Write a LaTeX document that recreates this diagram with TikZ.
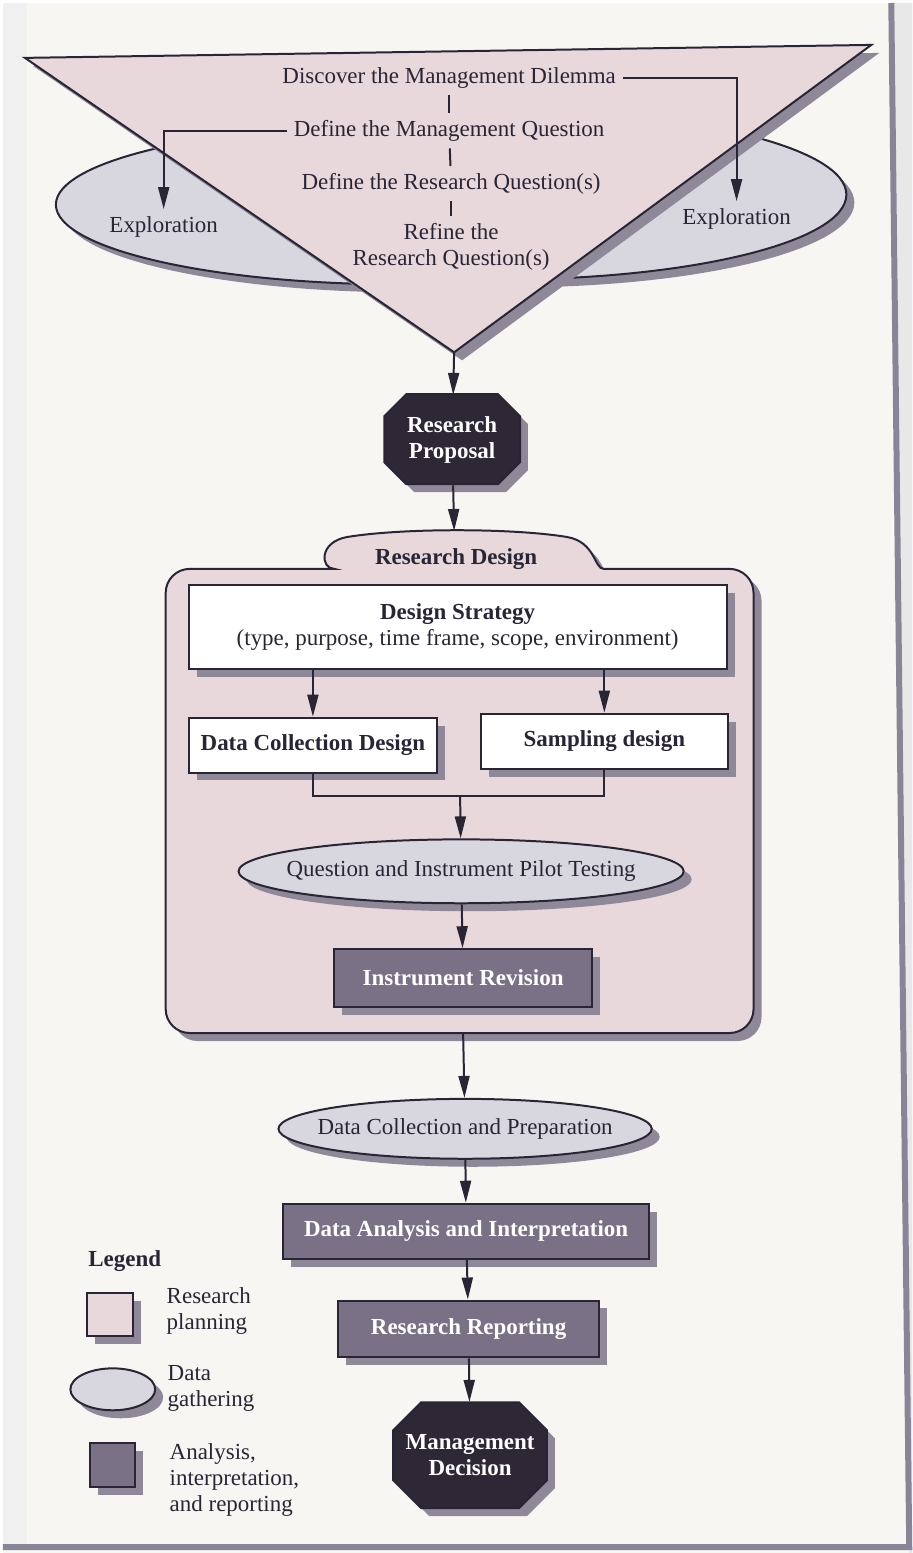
\documentclass[tikz,border=0pt]{standalone}
\usepackage{fontspec}
\setmainfont{Liberation Serif}
\usetikzlibrary{arrows.meta,shapes.geometric,shadows}

\definecolor{plancol}{HTML}{E8D8DC}
\definecolor{gathcol}{HTML}{D8D7E0}
\definecolor{anacol}{HTML}{7B7186}
\definecolor{deccol}{HTML}{2D2736}
\definecolor{shadcol}{HTML}{8E8898}
\definecolor{inkcol}{HTML}{2A2535}
\definecolor{papercol}{HTML}{F7F6F3}
\definecolor{edgecol}{HTML}{8A8596}

% octagon outline: centre x, centre y, half width, half height, chamfer
\newcommand{\octashape}[5]{%
  \path[outl,fill=deccol,shad] (#1-#3+#5,#2-#4) -- (#1+#3-#5,#2-#4) -- (#1+#3,#2-#4+#5)
    -- (#1+#3,#2+#4-#5) -- (#1+#3-#5,#2+#4) -- (#1-#3+#5,#2+#4) -- (#1-#3,#2+#4-#5)
    -- (#1-#3,#2-#4+#5) -- cycle;}

\tikzset{
  shad/.style={drop shadow={shadow xshift=4pt,shadow yshift=-4pt,fill=shadcol,opacity=1}},
  outl/.style={draw=inkcol,line width=1pt},
  whitebox/.style={rectangle,outl,fill=white,shad,inner sep=0pt,align=center,font=\fontsize{11.5}{13}\selectfont\bfseries},
  darkbox/.style={rectangle,outl,fill=anacol,shad,inner sep=0pt,text=white,font=\fontsize{11.5}{13}\selectfont\bfseries},
  gathoval/.style={ellipse,outl,fill=gathcol,shad,inner xsep=-12pt,inner ysep=0pt},
  octtext/.style={rectangle,inner sep=0pt,text=white,align=center,font=\fontsize{11.5}{13}\selectfont\bfseries},
  link/.style={inkcol,line width=1pt},
}

\begin{document}
\begin{tikzpicture}[x=0.5pt,y=-0.5pt,>={Triangle[length=11pt,width=5.5pt]},
  font=\fontsize{11.5}{13}\selectfont,text=inkcol]
% paper and page edge
\fill[papercol] (0,0) rectangle (911,1553);
\fill[gray!12] (0,0) rectangle (24,1547);
\fill[gray!18] (890,0) -- (911,0) -- (911,1553) -- (908,1553) -- cycle;
\draw[edgecol,line width=3pt] (890,0) -- (908,1547) -- (0,1547);

% exploration discs behind the funnel
\begin{scope}
  \clip (0,0) rectangle (452,400);
  \path[outl,fill=gathcol,shad] (400,202) ellipse [x radius=347,y radius=80];
\end{scope}
\begin{scope}
  \clip (452,0) rectangle (900,400);
  \path[outl,fill=gathcol,shad] (500,192) ellipse [x radius=345,y radius=85];
\end{scope}

% funnel
\path[outl,fill=plancol,shad] (22,55) -- (870,42) -- (452,350) -- cycle;
\coordinate (tip) at (452,350);

\node (dm)  at (447,75)  {Discover the Management Dilemma};
\node (mq)  at (447,128) {Define the Management Question};
\node (rq)  at (449,181) {Define the Research Question(s)};
\node[align=center] (rrq) at (449,244) {Refine the\\Research Question(s)};
\node (expL) at (161,224) {Exploration};
\node (expR) at (735,216) {Exploration};

\draw[link] (dm) -- (mq);
\draw[link] (mq) -- (rq);
\draw[link] (rq) -- (rrq);
\draw[link,->] (dm.east) -| (expR.north);
\draw[link,->] (mq.west) -| (expL.north);

% proposal
\octashape{450}{437}{68}{45}{22}
\node[octtext,minimum width=68pt,minimum height=45pt] (rp) at (450,438) {Research\\Proposal};
\draw[link,->] (tip) -- (rp);

% research design container
\path[outl,fill=plancol,shad] (163,800) [rounded corners=12pt] -- (163,567) -- (308,567) [sharp corners]
  .. controls (318,567) and (316,540) .. (345,535)
  .. controls (400,526) and (510,526) .. (565,535)
  .. controls (594,540) and (592,567) .. (602,567) [rounded corners=12pt]
  -- (752,567) -- (752,1032) -- (163,1032) -- cycle;
\coordinate (rdtop) at (452,529);
\coordinate (rdbot) at (461,1032);
\node[font=\fontsize{11.5}{13}\selectfont\bfseries] (rdl) at (454,557) {Research Design};
\draw[link,->] (rp) -- (rdtop);

\node[whitebox,minimum width=269.5pt,minimum height=42pt] (ds) at (455.5,625)
  {Design Strategy\\{\mdseries (type, purpose, time frame, scope, environment)}};
\node[whitebox,minimum width=124.5pt,minimum height=27.5pt] (dcd) at (310.5,743.5) {Data Collection Design};
\node[whitebox,minimum width=123.5pt,minimum height=27.5pt] (sd) at (602.5,739.5) {Sampling design};
\draw[link,->] (ds.south -| dcd) -- (dcd);
\draw[link,->] (ds.south -| sd) -- (sd);

\coordinate (merge) at (458,795);
\draw[link] (dcd.south) |- (merge) -| (sd.south);
\node[gathoval,minimum width=223pt,minimum height=32pt] (qipt) at (459,870) {Question and Instrument Pilot Testing};
\draw[link,->] (merge) -- (qipt);
\node[darkbox,minimum width=129pt,minimum height=29pt] (ir) at (461,977) {Instrument Revision};
\draw[link,->] (qipt) -- (ir);

% gathering, analysis, reporting
\node[gathoval,minimum width=187pt,minimum height=30pt] (dcp) at (463,1128) {Data Collection and Preparation};
\draw[link,->] (rdbot) -- (dcp);
\node[darkbox,minimum width=183pt,minimum height=27.5pt] (dai) at (464,1230.5) {Data Analysis and Interpretation};
\draw[link,->] (dcp) -- (dai);
\node[darkbox,minimum width=130.5pt,minimum height=28.5pt] (rr) at (466.5,1328.5) {Research Reporting};
\draw[link,->] (dai) -- (rr);
\octashape{468}{1455}{77}{53}{28}
\node[octtext,minimum width=77pt,minimum height=53pt] (md) at (468,1455) {Management\\Decision};
\draw[link,->] (rr) -- (md);

% legend
\node[font=\fontsize{11.5}{13}\selectfont\bfseries] (legt) at (122,1260) {Legend};
\node[rectangle,outl,fill=plancol,shad,minimum width=23pt,minimum height=22pt] (legp) at (107,1314) {};
\node[anchor=west,align=left] (legpt) at (157,1311) {Research\\planning};
\node[gathoval,minimum width=42.5pt,minimum height=21pt] (legg) at (110,1389) {};
\node[anchor=west,align=left] (leggt) at (158,1388) {Data\\gathering};
\node[rectangle,outl,fill=anacol,shad,minimum width=22.5pt,minimum height=22pt] (lega) at (110,1465) {};
\node[anchor=west,align=left] (legat) at (160,1480) {Analysis,\\interpretation,\\and reporting};
\end{tikzpicture}
\end{document}
